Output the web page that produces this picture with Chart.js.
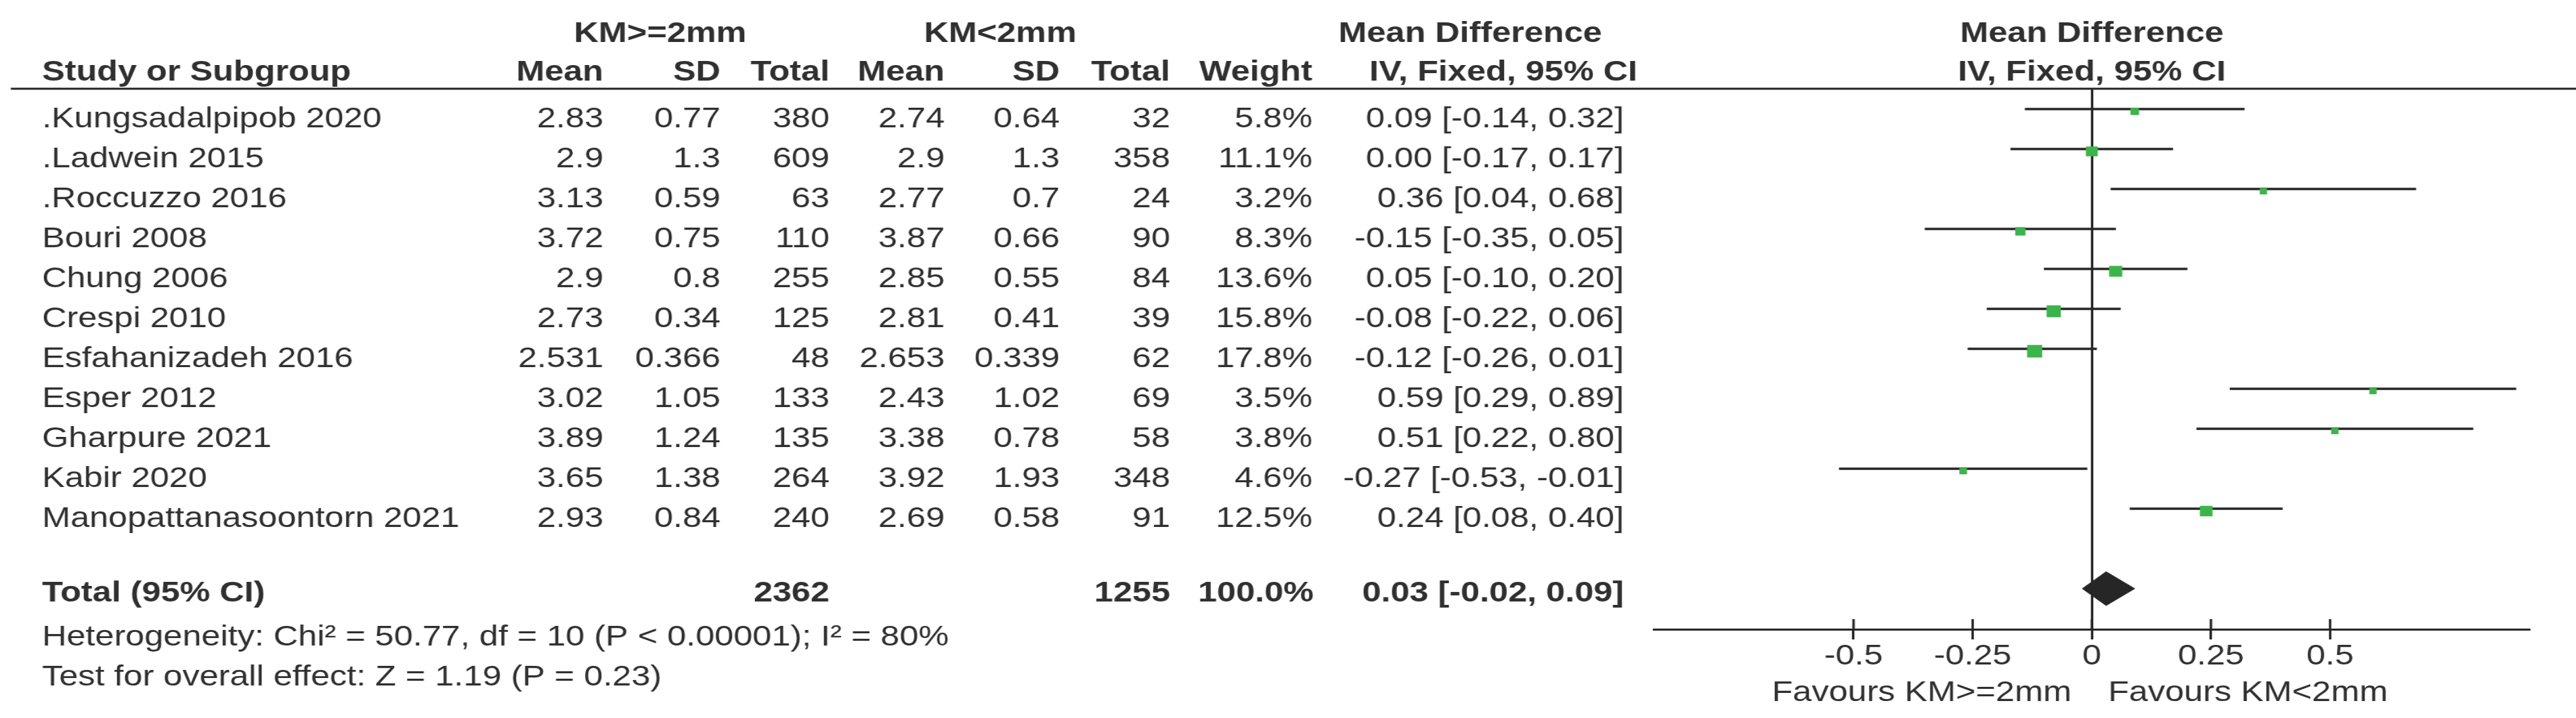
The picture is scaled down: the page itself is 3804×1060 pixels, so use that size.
<!DOCTYPE html>
<html>
<head>
<meta charset="utf-8">
<title>Forest plot - KM>=2mm vs KM<2mm</title>
<script src="https://cdn.jsdelivr.net/npm/chart.js@4.4.1/dist/chart.umd.min.js"></script>
<style>
  html, body { margin: 0; padding: 0; background: #fff; overflow: hidden; }
  /* the source image is stretched sideways, so draw narrow and stretch */
  #forest { display: block; transform: scaleX(1.2); transform-origin: 0 0; }
</style>
</head>
<body>
<canvas id="forest" width="3170" height="1060"></canvas>
<script>
// ---- data ----
const studies = ['.Kungsadalpipob 2020', '.Ladwein 2015', '.Roccuzzo 2016', 'Bouri 2008', 'Chung 2006',
  'Crespi 2010', 'Esfahanizadeh 2016', 'Esper 2012', 'Gharpure 2021', 'Kabir 2020', 'Manopattanasoontorn 2021'];
const mean1 = [2.83, 2.9, 3.13, 3.72, 2.9, 2.73, 2.531, 3.02, 3.89, 3.65, 2.93];
const sd1 = [0.77, 1.3, 0.59, 0.75, 0.8, 0.34, 0.366, 1.05, 1.24, 1.38, 0.84];
const total1 = [380, 609, 63, 110, 255, 125, 48, 133, 135, 264, 240];
const mean2 = [2.74, 2.9, 2.77, 3.87, 2.85, 2.81, 2.653, 2.43, 3.38, 3.92, 2.69];
const sd2 = [0.64, 1.3, 0.7, 0.66, 0.55, 0.41, 0.339, 1.02, 0.78, 1.93, 0.58];
const total2 = [32, 358, 24, 90, 84, 39, 62, 69, 58, 348, 91];
const weights = [5.8, 11.1, 3.2, 8.3, 13.6, 15.8, 17.8, 3.5, 3.8, 4.6, 12.5];
const md = [0.09, 0.00, 0.36, -0.15, 0.05, -0.08, -0.12, 0.59, 0.51, -0.27, 0.24];
const ciLow = [-0.14, -0.17, 0.04, -0.35, -0.10, -0.22, -0.26, 0.29, 0.22, -0.53, 0.08];
const ciHigh = [0.32, 0.17, 0.68, 0.05, 0.20, 0.06, 0.01, 0.89, 0.80, -0.01, 0.40];

const pooledTotals = [2362, 1255];
const pooledWeight = 100.0;
const pooledMd = 0.03;
const pooledLow = -0.02;
const pooledHigh = 0.09;
const totalRow = 12;

const xTicks = [-0.5, -0.25, 0, 0.25, 0.5];
const heterogeneity = 'Heterogeneity: Chi\u00b2 = 50.77, df = 10 (P < 0.00001); I\u00b2 = 80%';
const overallTest = 'Test for overall effect: Z = 1.19 (P = 0.23)';
const favourLeft = 'Favours KM>=2mm';
const favourRight = 'Favours KM<2mm';

// ---- look ----
const FONT = '"Liberation Sans", Arial, Helvetica, sans-serif';
const ink = '#262626';
const textColor = '#303030';
const green = '#3cb44b';
const SX = 1.2;            // horizontal stretch of the page
const X = v => v / SX;     // page x -> canvas x
const W = 3170, H = 1060;

const AXIS_Y = 929;
const TOP_RULE = 131;
const ROW0 = 161, ROW_STEP = 59;
const yMin = (TOP_RULE - ROW0) / ROW_STEP;
const yMax = (AXIS_Y - ROW0) / ROW_STEP;
const sqShift = 3.5 / ROW_STEP;
const AXIS_H = 80;

const f2 = v => v.toFixed(2);
const ciText = (m, lo, hi) => `${f2(m)} [${f2(lo)}, ${f2(hi)}]`;

const tablePlugin = {
  id: 'forestTable',
  afterDraw(chart) {
    const ctx = chart.ctx;
    const ys = chart.scales.y;
    const xs = chart.scales.x;
    ctx.save();
    ctx.fillStyle = textColor;
    ctx.textBaseline = 'alphabetic';
    const put = (txt, x, y, align, bold) => {
      ctx.font = (bold ? 'bold ' : '') + '42px ' + FONT;
      ctx.textAlign = align;
      ctx.fillText(txt, X(x), y);
    };

    // headers
    put('KM>=2mm', 975, 62, 'center', true);
    put('KM<2mm', 1477, 62, 'center', true);
    put('Mean Difference', 2171, 62, 'center', true);
    put('Mean Difference', 3089, 62, 'center', true);
    put('Study or Subgroup', 62, 119, 'left', true);
    put('Mean', 891, 119, 'right', true);
    put('SD', 1064, 119, 'right', true);
    put('Total', 1225, 119, 'right', true);
    put('Mean', 1395, 119, 'right', true);
    put('SD', 1565, 119, 'right', true);
    put('Total', 1728, 119, 'right', true);
    put('Weight', 1938, 119, 'right', true);
    put('IV, Fixed, 95% CI', 2220, 119, 'center', true);
    put('IV, Fixed, 95% CI', 3089, 119, 'center', true);

    ctx.strokeStyle = ink;
    ctx.lineWidth = 3;
    ctx.beginPath();
    ctx.moveTo(X(16), TOP_RULE);
    ctx.lineTo(W, TOP_RULE);
    ctx.stroke();

    // study rows
    studies.forEach((s, i) => {
      const y = ys.getPixelForValue(i) + 27;
      put(s, 62, y, 'left');
      put(String(mean1[i]), 891, y, 'right');
      put(String(sd1[i]), 1064, y, 'right');
      put(String(total1[i]), 1225, y, 'right');
      put(String(mean2[i]), 1395, y, 'right');
      put(String(sd2[i]), 1565, y, 'right');
      put(String(total2[i]), 1728, y, 'right');
      put(weights[i].toFixed(1) + '%', 1938, y, 'right');
      put(ciText(md[i], ciLow[i], ciHigh[i]), 2398, y, 'right');
    });

    // total row
    const ty = ys.getPixelForValue(totalRow) + 19;
    put('Total (95% CI)', 62, ty, 'left', true);
    put(String(pooledTotals[0]), 1225, ty, 'right', true);
    put(String(pooledTotals[1]), 1728, ty, 'right', true);
    put(pooledWeight.toFixed(1) + '%', 1940, ty, 'right', true);
    put(ciText(pooledMd, pooledLow, pooledHigh), 2398, ty, 'right', true);

    put(heterogeneity, 62, 953, 'left');
    put(overallTest, 62, 1012, 'left');

    // upper half of the tick marks (they cross the axis)
    ctx.beginPath();
    xTicks.forEach(v => {
      const px = xs.getPixelForValue(v);
      ctx.moveTo(px, xs.top - 15);
      ctx.lineTo(px, xs.top);
    });
    ctx.stroke();

    put(favourLeft, 3059, 1035, 'right');
    put(favourRight, 3113, 1035, 'left');
    ctx.restore();
  }
};

const ctx = document.getElementById('forest');
new Chart(ctx, {
  type: 'scatter',
  data: {
    datasets: [
      {
        type: 'scatter',
        label: 'Mean difference',
        data: studies.map((s, i) => ({ x: md[i], y: i })),
        yAxisID: 'ySq',
        pointStyle: 'rect',
        pointRadius: weights.map(w => Math.max(9, 4.4 * Math.sqrt(w)) / Math.SQRT2),
        pointBackgroundColor: green,
        pointBorderWidth: 0,
        order: 0
      },
      {
        type: 'line',
        label: 'Total',
        data: [
          { x: pooledLow, y: totalRow },
          { x: pooledMd, y: totalRow - 0.424 },
          { x: pooledHigh, y: totalRow },
          { x: pooledMd, y: totalRow + 0.424 },
          { x: pooledLow, y: totalRow }
        ],
        yAxisID: 'y',
        fill: 'shape',
        backgroundColor: ink,
        borderColor: ink,
        borderWidth: 1,
        pointRadius: 0,
        tension: 0,
        order: 1
      },
      {
        type: 'bar',
        label: '95% CI',
        indexAxis: 'y',
        data: studies.map((s, i) => ({ y: i, x: [ciLow[i], ciHigh[i]] })),
        xAxisID: 'x',
        yAxisID: 'y',
        barThickness: 3,
        backgroundColor: ink,
        borderWidth: 0,
        borderSkipped: false,
        order: 2
      }
    ]
  },
  options: {
    responsive: false,
    animation: false,
    devicePixelRatio: 1,
    layout: {
      padding: { left: X(2443), right: W - X(3735), top: TOP_RULE, bottom: H - AXIS_Y - AXIS_H }
    },
    plugins: {
      legend: { display: false },
      tooltip: { enabled: false }
    },
    scales: {
      x: {
        type: 'linear',
        min: -0.918,
        max: 0.918,
        offset: false,
        afterBuildTicks: s => { s.ticks = xTicks.map(v => ({ value: v })); },
        afterFit: s => { s.height = AXIS_H; },
        grid: {
          offset: false,
          color: c => (c.tick && c.tick.value === 0 ? ink : 'rgba(0,0,0,0)'),
          lineWidth: 3,
          tickLength: 15,
          tickColor: ink,
          tickWidth: 3
        },
        border: { display: true, color: ink, width: 3 },
        ticks: {
          autoSkip: false,
          maxRotation: 0,
          padding: 0,
          color: textColor,
          font: { family: FONT, size: 42 },
          callback: v => String(v)
        }
      },
      y: { type: 'linear', display: false, reverse: true, offset: false, min: yMin, max: yMax },
      ySq: { type: 'linear', display: false, reverse: true, offset: false, min: yMin - sqShift, max: yMax - sqShift }
    }
  },
  plugins: [tablePlugin]
});
</script>
</body>
</html>
